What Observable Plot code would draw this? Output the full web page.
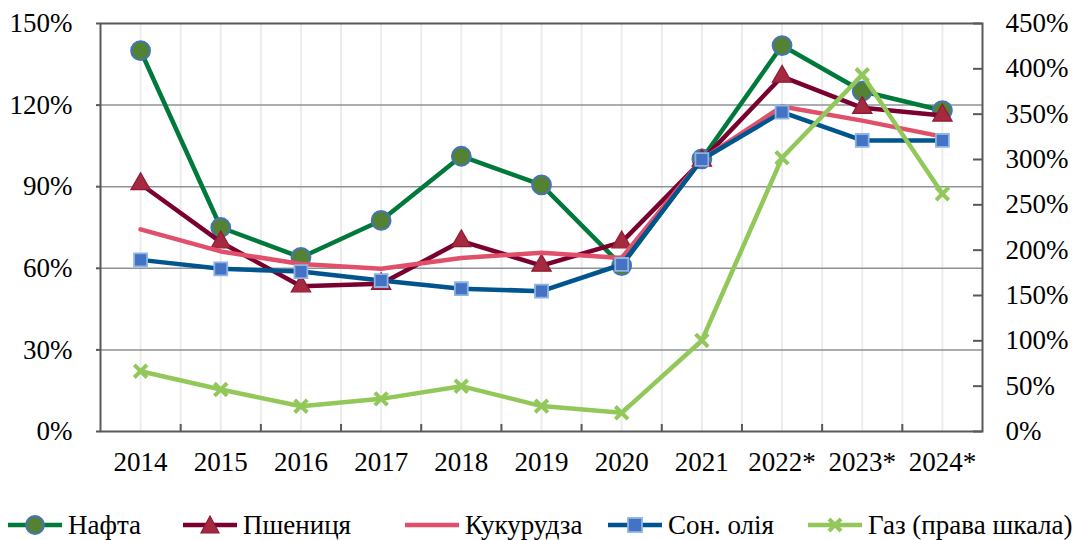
<!DOCTYPE html>
<html>
<head>
<meta charset="utf-8">
<script src="https://cdn.jsdelivr.net/npm/d3@7"></script>
<script src="https://cdn.jsdelivr.net/npm/@observablehq/plot@0.6"></script>
<style>
  html, body { margin: 0; padding: 0; background: #fff; }
  #wrap { position: relative; width: 1087px; height: 540px; font-family: 'Liberation Serif', serif; }
  #wrap svg text, .leg, .leg span { font-family: 'Liberation Serif', serif !important; }
  .leg { position: absolute; top: 508px; height: 34px; display: flex; align-items: center; font-size: 27px; color: #000; white-space: nowrap; }
  .leg svg { margin-right: 5px; }
</style>
</head>
<body>
<div id="wrap"><div id="chart"></div></div>
<script>
const years = ["2014","2015","2016","2017","2018","2019","2020","2021","2022*","2023*","2024*"];
const oil    = [140, 75, 64, 77.6, 101.2, 90.7, 61, 100.2, 141.9, 125.1, 118];
const wheat  = [91, 69.6, 53.4, 54.3, 70, 61, 69.6, 99.6, 130.5, 119, 116.2];
const corn   = [74.3, 66.2, 61.6, 59.8, 63.8, 65.7, 63.8, 100, 119.5, 114.3, 108.4];
const sunOil = [63.1, 59.8, 58.8, 55.5, 52.5, 51.6, 61.4, 100, 117.4, 107, 107];
const gas    = [66.5, 46.3, 27.9, 36, 50, 28, 20.6, 100.4, 301.9, 393.4, 262.2]; // right scale
const leftTicks  = [0, 30, 60, 90, 120, 150];
const rightTicks = [0, 50, 100, 150, 200, 250, 300, 350, 400, 450];
const seriesNames = ["Нафта", "Пшениця", "Кукурудза", "Сон. олія", "Газ (права шкала)"];

const ratio = 450 / 150; // right scale to left scale
const rows = arr => arr.map((v, i) => ({i, v}));
const centers = years.map((_, i) => i);
const bounds = years.slice(1).map((_, i) => i + 0.5);

const C = {
  oil: "#00793A", oilFill: "#548235", oilEdge: "#4472C4",
  wheat: "#7A0030", wheatFill: "#A52A40", wheatEdge: "#8E1B33",
  corn: "#E0506A",
  sun: "#00558F", sunFill: "#4472C4", sunEdge: "#8DB4E2",
  gas: "#92C85A"
};

const W = 1087, H = 490, mT = 23, mB = 59, mL = 100, mR = 105;
const pxY = 150 / (H - mT - mB);   // data units per pixel (y)
const pxX = 11 / (W - mL - mR);    // data units per pixel (x)

const chart = Plot.plot({
  width: W, height: H,
  marginTop: mT, marginBottom: mB, marginLeft: mL, marginRight: mR,
  style: "font-family: 'Liberation Serif', serif; font-size: 27px; color: #000; background: #fff;",
  x: {type: "linear", domain: [-0.5, 10.5], axis: null},
  y: {domain: [0, 150], axis: null},
  marks: [
    Plot.ruleX(centers.concat(bounds), {x: d => d, stroke: "#ececec", strokeWidth: 2}),
    Plot.ruleY(leftTicks.filter(d => d > 0 && d < 150), {y: d => d, stroke: "#8c9399", strokeWidth: 1.5}),
    Plot.frame({stroke: "#595959", strokeWidth: 2}),
    // bottom inward ticks at category boundaries
    Plot.ruleX(bounds, {x: d => d, y1: 0, y2: 7 * pxY, stroke: "#595959", strokeWidth: 2}),
    // left outward ticks
    Plot.ruleY(leftTicks, {y: d => d, x1: -0.5 - 4 * pxX, x2: -0.5, stroke: "#595959", strokeWidth: 2}),
    // right inward ticks
    Plot.ruleY(rightTicks, {y: d => d / ratio, x1: 10.5 - 9 * pxX, x2: 10.5, stroke: "#595959", strokeWidth: 2}),
    Plot.axisY({ticks: leftTicks, anchor: "left", tickSize: 0, tickPadding: 28, tickFormat: d => d + "%", label: null, fill: "#000"}),
    Plot.axisY({ticks: rightTicks.map(d => d / ratio), anchor: "right", tickSize: 0, tickPadding: 23, tickFormat: d => Math.round(d * ratio) + "%", label: null, fill: "#000"}),
    Plot.axisX({ticks: centers, anchor: "bottom", tickSize: 0, tickPadding: 20, tickFormat: i => years[i], label: null, fill: "#000"}),
    // series
    Plot.line(rows(oil), {x: "i", y: "v", stroke: C.oil, strokeWidth: 4.5}),
    Plot.dot(rows(oil), {x: "i", y: "v", r: 9.5, fill: C.oilFill, stroke: C.oilEdge, strokeWidth: 1.8}),
    Plot.line(rows(wheat), {x: "i", y: "v", stroke: C.wheat, strokeWidth: 4.5}),
    Plot.dot(rows(wheat), {x: "i", y: "v", symbol: "triangle", r: 7.2, fill: C.wheatFill, stroke: C.wheatEdge, strokeWidth: 1.2}),
    Plot.line(rows(corn), {x: "i", y: "v", stroke: C.corn, strokeWidth: 4.5}),
    Plot.line(rows(sunOil), {x: "i", y: "v", stroke: C.sun, strokeWidth: 4.5}),
    Plot.dot(rows(sunOil), {x: "i", y: "v", symbol: "square", r: 7.3, fill: C.sunFill, stroke: C.sunEdge, strokeWidth: 1.8}),
    Plot.line(rows(gas), {x: "i", y: d => d.v / ratio, stroke: C.gas, strokeWidth: 4.5}),
    Plot.dot(rows(gas), {x: "i", y: d => d.v / ratio, symbol: "times", r: 5.8, stroke: C.gas, strokeWidth: 4})
  ]
});
document.getElementById("chart").appendChild(chart);

// legend
const legendPos = [8, 183, 405, 608, 808];
const swatch = k => {
  const line = (c) => `<line x1="0" y1="10" x2="54" y2="10" stroke="${c}" stroke-width="4.5"/>`;
  if (k === 0) return line(C.oil) + `<circle cx="27" cy="10" r="9" fill="${C.oilFill}" stroke="${C.oilEdge}" stroke-width="1.8"/>`;
  if (k === 1) return line(C.wheat) + `<path d="M27,1 L36,18 L18,18 Z" fill="${C.wheatFill}" stroke="${C.wheatEdge}" stroke-width="1.2"/>`;
  if (k === 2) return line(C.corn);
  if (k === 3) return line(C.sun) + `<rect x="20" y="3" width="14" height="14" fill="${C.sunFill}" stroke="${C.sunEdge}" stroke-width="1.8"/>`;
  return line(C.gas) + `<path d="M21,4 L33,16 M33,4 L21,16" stroke="${C.gas}" stroke-width="4"/>`;
};
const wrap = document.getElementById("wrap");
seriesNames.forEach((name, k) => {
  const d = document.createElement("div");
  d.className = "leg";
  d.style.left = legendPos[k] + "px";
  d.innerHTML = `<svg width="55" height="20" viewBox="0 0 55 20">${swatch(k)}</svg><span>${name}</span>`;
  wrap.appendChild(d);
});
</script>
</body>
</html>
